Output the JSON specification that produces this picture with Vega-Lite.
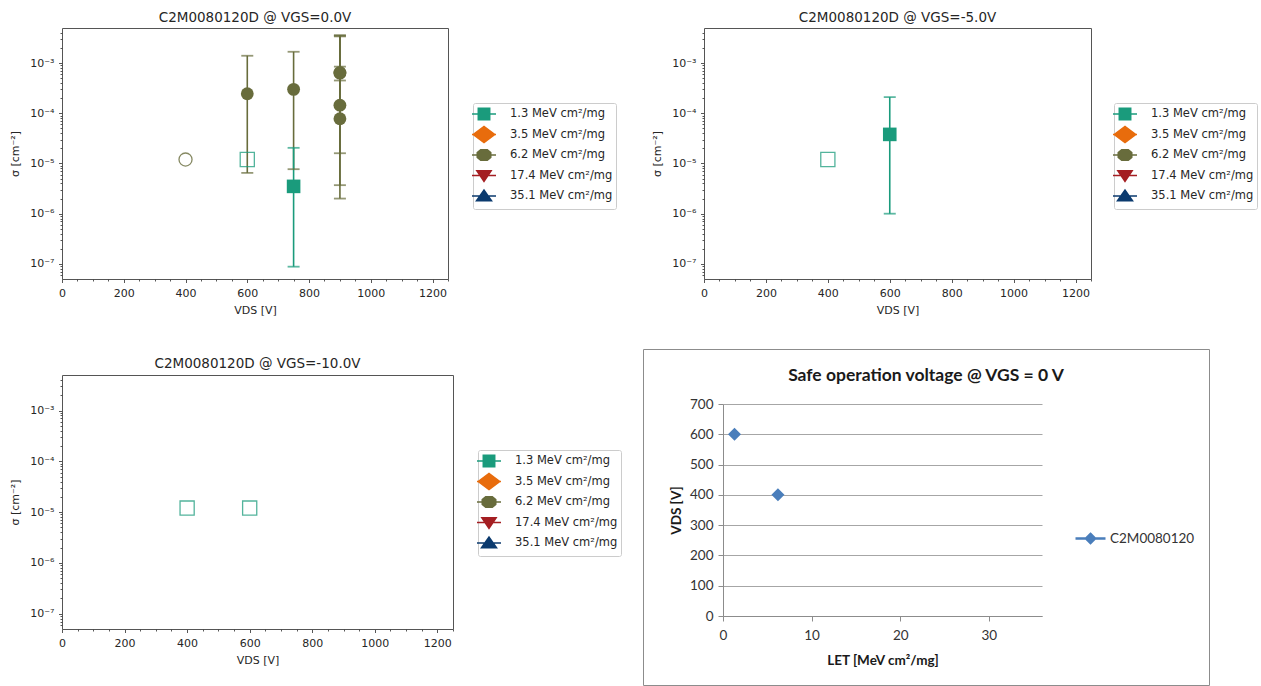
{
"$schema": "https://vega.github.io/schema/vega-lite/v6.json",
"background": "white",
"padding": {"left": 9, "top": 10, "right": 0, "bottom": 0},
"config": {
 "font": "DejaVu Sans",
 "view": {"stroke": "#555555", "strokeWidth": 1},
 "axis": {"domain": false, "grid": false, "labelFont": "DejaVu Sans", "labelFontSize": 11, "labelColor": "#262626", "tickColor": "#444444", "tickWidth": 0.9, "titleFont": "DejaVu Sans", "titleFontSize": 11, "titleFontWeight": "normal", "titleColor": "#262626"},
 "title": {"font": "DejaVu Sans", "fontSize": 13.5, "fontWeight": "normal", "color": "#262626", "anchor": "middle", "frame": "group"},
 "legend": {"labelFont": "DejaVu Sans", "labelFontSize": 11.5, "labelColor": "#262626"}
},
"datasets": {
 "pts": [
  {"panel": "A", "V": 400, "LET": "6.2 MeV cm²/mg", "sigma": 1.2e-5, "lo": null, "hi": null, "kind": "limit"},
  {"panel": "A", "V": 600, "LET": "1.3 MeV cm²/mg", "sigma": 1.2e-5, "lo": null, "hi": null, "kind": "limit"},
  {"panel": "A", "V": 600, "LET": "6.2 MeV cm²/mg", "sigma": 2.45e-4, "lo": 6.5e-6, "hi": 1.4e-3, "kind": "event"},
  {"panel": "A", "V": 750, "LET": "6.2 MeV cm²/mg", "sigma": 3.0e-4, "lo": 7.7e-6, "hi": 1.68e-3, "kind": "event"},
  {"panel": "A", "V": 750, "LET": "1.3 MeV cm²/mg", "sigma": 3.5e-6, "lo": 8.8e-8, "hi": 2.05e-5, "kind": "event"},
  {"panel": "A", "V": 900, "LET": "6.2 MeV cm²/mg", "sigma": 6.3e-4, "lo": 4.5e-4, "hi": 8.5e-4, "kind": "event"},
  {"panel": "A", "V": 900, "LET": "6.2 MeV cm²/mg", "sigma": 6.5e-4, "lo": 2.0e-6, "hi": 3.6e-3, "kind": "event"},
  {"panel": "A", "V": 900, "LET": "6.2 MeV cm²/mg", "sigma": 1.45e-4, "lo": 1.6e-5, "hi": 3.5e-3, "kind": "event"},
  {"panel": "A", "V": 900, "LET": "6.2 MeV cm²/mg", "sigma": 7.8e-5, "lo": 3.7e-6, "hi": 3.4e-3, "kind": "event"},
  {"panel": "B", "V": 400, "LET": "1.3 MeV cm²/mg", "sigma": 1.2e-5, "lo": null, "hi": null, "kind": "limit"},
  {"panel": "B", "V": 600, "LET": "1.3 MeV cm²/mg", "sigma": 3.8e-5, "lo": 1.0e-6, "hi": 2.1e-4, "kind": "event"},
  {"panel": "C", "V": 400, "LET": "1.3 MeV cm²/mg", "sigma": 1.2e-5, "lo": null, "hi": null, "kind": "limit"},
  {"panel": "C", "V": 600, "LET": "1.3 MeV cm²/mg", "sigma": 1.2e-5, "lo": null, "hi": null, "kind": "limit"}
 ],
 "leg": [
  {"LET": "1.3 MeV cm²/mg"}, {"LET": "3.5 MeV cm²/mg"}, {"LET": "6.2 MeV cm²/mg"}, {"LET": "17.4 MeV cm²/mg"}, {"LET": "35.1 MeV cm²/mg"}
 ],
 "safe": [
  {"LET": 1.3, "VDS": 600, "series": "C2M0080120"},
  {"LET": 6.2, "VDS": 400, "series": "C2M0080120"}
 ]
},
"spacing": 32,
"resolve": {"scale": {"color": "independent", "fill": "independent", "stroke": "independent", "shape": "independent"}, "legend": {"color": "independent", "fill": "independent", "stroke": "independent", "shape": "independent"}},
"vconcat": [
 {"spacing": 34,
  "resolve": {"scale": {"color": "independent", "fill": "independent", "stroke": "independent", "shape": "independent"}, "legend": {"color": "independent", "fill": "independent", "stroke": "independent", "shape": "independent"}},
  "hconcat": [
  {
   "width": 386, "height": 251,
   "title": {"text": "C2M0080120D @ VGS=0.0V", "offset": 4},
   "data": {"name": "pts"},
   "layer": [
    {"data": {"name": "leg"}, "mark": {"type": "point", "opacity": 0},
     "encoding": {
      "fill": {"field": "LET", "type": "nominal", "scale": {"domain": ["1.3 MeV cm²/mg","3.5 MeV cm²/mg","6.2 MeV cm²/mg","17.4 MeV cm²/mg","35.1 MeV cm²/mg"], "range": ["#1a9b7c","#e86c0c","#686c3c","#a41e22","#0b3a6e"]},
        "legend": {"orient": "none", "legendX": 411, "legendY": 75, "title": null, "padding": 3, "fillColor": "#ffffff", "strokeColor": "#cccccc", "cornerRadius": 2, "symbolSize": 256, "symbolStrokeWidth": 0, "symbolOpacity": 1, "symbolOffset": 0, "labelOffset": 18, "rowPadding": 0.5, "labelLimit": 300}},
      "shape": {"field": "LET", "type": "nominal", "scale": {"domain": ["1.3 MeV cm²/mg","3.5 MeV cm²/mg","6.2 MeV cm²/mg","17.4 MeV cm²/mg","35.1 MeV cm²/mg"], "range": ["M-1.5,-1.25M1.5,1.25M-1.5,-0.09H1.5V0.09H-1.5ZM-0.81,-0.81H0.81V0.81H-0.81Z","M-1.5,-1.25M1.5,1.25M-1.5,-0.09H1.5V0.09H-1.5ZM-1.5,0L0,-1.12L1.5,0L0,1.12Z","M-1.5,-1.25M1.5,1.25M-1.5,-0.09H1.5V0.09H-1.5ZM-0.45,-0.75H0.45L0.94,-0.34V0.34L0.45,0.75H-0.45L-0.94,0.34V-0.34Z","M-1.5,-1.25M1.5,1.25M-1.5,-0.09H1.5V0.09H-1.5ZM-1.07,-0.68H1.07L0,0.9Z","M-1.5,-1.25M1.5,1.25M-1.5,-0.09H1.5V0.09H-1.5ZM0,-0.9L1.12,0.68H-1.12Z"]},
        "legend": {"orient": "none", "legendX": 411, "legendY": 75, "title": null, "padding": 3, "fillColor": "#ffffff", "strokeColor": "#cccccc", "cornerRadius": 2, "symbolSize": 256, "symbolStrokeWidth": 0, "symbolOpacity": 1, "symbolOffset": 0, "labelOffset": 18, "rowPadding": 0.5, "labelLimit": 300}}
     }},
    {"transform": [{"filter": "datum.panel == 'A' && datum.kind == 'event'"}], "mark": {"type": "rule", "strokeWidth": 1.6},
     "encoding": {
      "x": {"field": "V", "type": "quantitative", "scale": {"domain": [0, 1250], "nice": false, "zero": false}, "axis": null},
      "y": {"field": "lo", "type": "quantitative", "scale": {"type": "log", "domain": [5e-8, 5e-3], "nice": false}, "axis": null},
      "y2": {"field": "hi"},
      "color": {"field": "LET", "type": "nominal", "scale": {"domain": ["1.3 MeV cm²/mg","3.5 MeV cm²/mg","6.2 MeV cm²/mg","17.4 MeV cm²/mg","35.1 MeV cm²/mg"], "range": ["#1a9b7c","#e86c0c","#686c3c","#a41e22","#0b3a6e"]}, "legend": null}
     }},
    {"transform": [{"filter": "datum.panel == 'A' && datum.kind == 'event'"}], "mark": {"type": "tick", "orient": "horizontal", "size": 12, "thickness": 1.8},
     "encoding": {
      "x": {"field": "V", "type": "quantitative", "scale": {"domain": [0, 1250], "nice": false, "zero": false}, "axis": null},
      "y": {"field": "lo", "type": "quantitative", "scale": {"type": "log", "domain": [5e-8, 5e-3], "nice": false}, "axis": null},
      "color": {"field": "LET", "type": "nominal", "scale": {"domain": ["1.3 MeV cm²/mg","3.5 MeV cm²/mg","6.2 MeV cm²/mg","17.4 MeV cm²/mg","35.1 MeV cm²/mg"], "range": ["#1a9b7c","#e86c0c","#686c3c","#a41e22","#0b3a6e"]}, "legend": null}
     }},
    {"transform": [{"filter": "datum.panel == 'A' && datum.kind == 'event'"}], "mark": {"type": "tick", "orient": "horizontal", "size": 12, "thickness": 1.8},
     "encoding": {
      "x": {"field": "V", "type": "quantitative", "scale": {"domain": [0, 1250], "nice": false, "zero": false}, "axis": null},
      "y": {"field": "hi", "type": "quantitative", "scale": {"type": "log", "domain": [5e-8, 5e-3], "nice": false}, "axis": null},
      "color": {"field": "LET", "type": "nominal", "scale": {"domain": ["1.3 MeV cm²/mg","3.5 MeV cm²/mg","6.2 MeV cm²/mg","17.4 MeV cm²/mg","35.1 MeV cm²/mg"], "range": ["#1a9b7c","#e86c0c","#686c3c","#a41e22","#0b3a6e"]}, "legend": null}
     }},
    {"transform": [{"filter": "datum.panel == 'A' && datum.kind == 'limit' && datum.LET == '1.3 MeV cm²/mg'"}], "mark": {"type": "point", "shape": "square", "filled": false, "size": 200, "strokeWidth": 1.3, "opacity": 0.75, "color": "#1a9b7c"},
     "encoding": {
      "x": {"field": "V", "type": "quantitative", "scale": {"domain": [0, 1250], "nice": false, "zero": false}, "axis": {"values": [50,100,150,250,300,350,450,500,550,650,700,750,850,900,950,1050,1100,1150,1250], "labels": false, "tickSize": 2, "title": null, "orient": "bottom"}},
      "y": {"field": "sigma", "type": "quantitative", "scale": {"type": "log", "domain": [5e-8, 5e-3], "nice": false}, "axis": {"values": [6e-8,7e-8,8e-8,9e-8,2e-7,3e-7,4e-7,5e-7,6e-7,7e-7,8e-7,9e-7,2e-6,3e-6,4e-6,5e-6,6e-6,7e-6,8e-6,9e-6,2e-5,3e-5,4e-5,5e-5,6e-5,7e-5,8e-5,9e-5,2e-4,3e-4,4e-4,5e-4,6e-4,7e-4,8e-4,9e-4,2e-3,3e-3,4e-3], "labels": false, "tickSize": 2, "title": null, "orient": "left"}}
     }},
    {"transform": [{"filter": "datum.panel == 'A' && datum.kind == 'limit' && datum.LET == '6.2 MeV cm²/mg'"}], "mark": {"type": "point", "shape": "circle", "filled": false, "size": 170, "strokeWidth": 1.3, "opacity": 0.8, "color": "#686c3c"},
     "encoding": {
      "x": {"field": "V", "type": "quantitative", "scale": {"domain": [0, 1250], "nice": false, "zero": false}, "axis": null},
      "y": {"field": "sigma", "type": "quantitative", "scale": {"type": "log", "domain": [5e-8, 5e-3], "nice": false}, "axis": null}
     }},
    {"transform": [{"filter": "datum.panel == 'A' && datum.kind == 'event' && datum.LET == '1.3 MeV cm²/mg'"}], "mark": {"type": "point", "shape": "square", "filled": true, "size": 185, "opacity": 1, "color": "#1a9b7c"},
     "encoding": {
      "x": {"field": "V", "type": "quantitative", "scale": {"domain": [0, 1250], "nice": false, "zero": false}, "axis": null},
      "y": {"field": "sigma", "type": "quantitative", "scale": {"type": "log", "domain": [5e-8, 5e-3], "nice": false}, "axis": null}
     }},
    {"transform": [{"filter": "datum.panel == 'A' && datum.kind == 'event' && datum.LET == '6.2 MeV cm²/mg'"}], "mark": {"type": "point", "shape": "circle", "filled": true, "size": 165, "opacity": 1, "color": "#686c3c"},
     "encoding": {
      "x": {"field": "V", "type": "quantitative", "scale": {"domain": [0, 1250], "nice": false, "zero": false}, "axis": {"values": [0,200,400,600,800,1000,1200], "format": "d", "title": "VDS [V]", "tickSize": 3.5, "labelPadding": 4.5, "titlePadding": 6, "labelFlush": false, "labelOverlap": false, "orient": "bottom"}},
      "y": {"field": "sigma", "type": "quantitative", "scale": {"type": "log", "domain": [5e-8, 5e-3], "nice": false}, "axis": {"values": [1e-7,1e-6,1e-5,1e-4,1e-3], "labelExpr": "'10⁻' + ['⁰','¹','²','³','⁴','⁵','⁶','⁷','⁸','⁹'][round(-log(datum.value)/LN10)]", "title": "σ [cm⁻²]", "tickSize": 3.5, "labelPadding": 4.5, "minExtent": 34, "maxExtent": 34, "titlePadding": 7.5, "labelFlush": false, "labelOverlap": false, "orient": "left"}}
     }}
   ],
   "resolve": {"axis": {"x": "independent", "y": "independent"}}
  },
  {
   "width": 387, "height": 251,
   "title": {"text": "C2M0080120D @ VGS=-5.0V", "offset": 4},
   "data": {"name": "pts"},
   "layer": [
    {"data": {"name": "leg"}, "mark": {"type": "point", "opacity": 0},
     "encoding": {
      "fill": {"field": "LET", "type": "nominal", "scale": {"domain": ["1.3 MeV cm²/mg","3.5 MeV cm²/mg","6.2 MeV cm²/mg","17.4 MeV cm²/mg","35.1 MeV cm²/mg"], "range": ["#1a9b7c","#e86c0c","#686c3c","#a41e22","#0b3a6e"]},
        "legend": {"orient": "none", "legendX": 410, "legendY": 75, "title": null, "padding": 3, "fillColor": "#ffffff", "strokeColor": "#cccccc", "cornerRadius": 2, "symbolSize": 256, "symbolStrokeWidth": 0, "symbolOpacity": 1, "symbolOffset": 0, "labelOffset": 18, "rowPadding": 0.5, "labelLimit": 300}},
      "shape": {"field": "LET", "type": "nominal", "scale": {"domain": ["1.3 MeV cm²/mg","3.5 MeV cm²/mg","6.2 MeV cm²/mg","17.4 MeV cm²/mg","35.1 MeV cm²/mg"], "range": ["M-1.5,-1.25M1.5,1.25M-1.5,-0.09H1.5V0.09H-1.5ZM-0.81,-0.81H0.81V0.81H-0.81Z","M-1.5,-1.25M1.5,1.25M-1.5,-0.09H1.5V0.09H-1.5ZM-1.5,0L0,-1.12L1.5,0L0,1.12Z","M-1.5,-1.25M1.5,1.25M-1.5,-0.09H1.5V0.09H-1.5ZM-0.45,-0.75H0.45L0.94,-0.34V0.34L0.45,0.75H-0.45L-0.94,0.34V-0.34Z","M-1.5,-1.25M1.5,1.25M-1.5,-0.09H1.5V0.09H-1.5ZM-1.07,-0.68H1.07L0,0.9Z","M-1.5,-1.25M1.5,1.25M-1.5,-0.09H1.5V0.09H-1.5ZM0,-0.9L1.12,0.68H-1.12Z"]},
        "legend": {"orient": "none", "legendX": 410, "legendY": 75, "title": null, "padding": 3, "fillColor": "#ffffff", "strokeColor": "#cccccc", "cornerRadius": 2, "symbolSize": 256, "symbolStrokeWidth": 0, "symbolOpacity": 1, "symbolOffset": 0, "labelOffset": 18, "rowPadding": 0.5, "labelLimit": 300}}
     }},
    {"transform": [{"filter": "datum.panel == 'B' && datum.kind == 'event'"}], "mark": {"type": "rule", "strokeWidth": 1.6, "color": "#1a9b7c"},
     "encoding": {
      "x": {"field": "V", "type": "quantitative", "scale": {"domain": [0, 1250], "nice": false, "zero": false}, "axis": null},
      "y": {"field": "lo", "type": "quantitative", "scale": {"type": "log", "domain": [5e-8, 5e-3], "nice": false}, "axis": null},
      "y2": {"field": "hi"}
     }},
    {"transform": [{"filter": "datum.panel == 'B' && datum.kind == 'event'"}], "mark": {"type": "tick", "orient": "horizontal", "size": 12, "thickness": 1.8, "color": "#1a9b7c"},
     "encoding": {
      "x": {"field": "V", "type": "quantitative", "scale": {"domain": [0, 1250], "nice": false, "zero": false}, "axis": null},
      "y": {"field": "lo", "type": "quantitative", "scale": {"type": "log", "domain": [5e-8, 5e-3], "nice": false}, "axis": null}
     }},
    {"transform": [{"filter": "datum.panel == 'B' && datum.kind == 'event'"}], "mark": {"type": "tick", "orient": "horizontal", "size": 12, "thickness": 1.8, "color": "#1a9b7c"},
     "encoding": {
      "x": {"field": "V", "type": "quantitative", "scale": {"domain": [0, 1250], "nice": false, "zero": false}, "axis": null},
      "y": {"field": "hi", "type": "quantitative", "scale": {"type": "log", "domain": [5e-8, 5e-3], "nice": false}, "axis": null}
     }},
    {"transform": [{"filter": "datum.panel == 'B' && datum.kind == 'limit'"}], "mark": {"type": "point", "shape": "square", "filled": false, "size": 200, "strokeWidth": 1.3, "opacity": 0.75, "color": "#1a9b7c"},
     "encoding": {
      "x": {"field": "V", "type": "quantitative", "scale": {"domain": [0, 1250], "nice": false, "zero": false}, "axis": {"values": [50,100,150,250,300,350,450,500,550,650,700,750,850,900,950,1050,1100,1150,1250], "labels": false, "tickSize": 2, "title": null, "orient": "bottom"}},
      "y": {"field": "sigma", "type": "quantitative", "scale": {"type": "log", "domain": [5e-8, 5e-3], "nice": false}, "axis": {"values": [6e-8,7e-8,8e-8,9e-8,2e-7,3e-7,4e-7,5e-7,6e-7,7e-7,8e-7,9e-7,2e-6,3e-6,4e-6,5e-6,6e-6,7e-6,8e-6,9e-6,2e-5,3e-5,4e-5,5e-5,6e-5,7e-5,8e-5,9e-5,2e-4,3e-4,4e-4,5e-4,6e-4,7e-4,8e-4,9e-4,2e-3,3e-3,4e-3], "labels": false, "tickSize": 2, "title": null, "orient": "left"}}
     }},
    {"transform": [{"filter": "datum.panel == 'B' && datum.kind == 'event'"}], "mark": {"type": "point", "shape": "square", "filled": true, "size": 185, "opacity": 1, "color": "#1a9b7c"},
     "encoding": {
      "x": {"field": "V", "type": "quantitative", "scale": {"domain": [0, 1250], "nice": false, "zero": false}, "axis": {"values": [0,200,400,600,800,1000,1200], "format": "d", "title": "VDS [V]", "tickSize": 3.5, "labelPadding": 4.5, "titlePadding": 6, "labelFlush": false, "labelOverlap": false, "orient": "bottom"}},
      "y": {"field": "sigma", "type": "quantitative", "scale": {"type": "log", "domain": [5e-8, 5e-3], "nice": false}, "axis": {"values": [1e-7,1e-6,1e-5,1e-4,1e-3], "labelExpr": "'10⁻' + ['⁰','¹','²','³','⁴','⁵','⁶','⁷','⁸','⁹'][round(-log(datum.value)/LN10)]", "title": "σ [cm⁻²]", "tickSize": 3.5, "labelPadding": 4.5, "minExtent": 34, "maxExtent": 34, "titlePadding": 7.5, "labelFlush": false, "labelOverlap": false, "orient": "left"}}
     }}
   ],
   "resolve": {"axis": {"x": "independent", "y": "independent"}}
  }
 ]},
 {"spacing": 20,
  "resolve": {"scale": {"color": "independent", "fill": "independent", "stroke": "independent", "shape": "independent"}, "legend": {"color": "independent", "fill": "independent", "stroke": "independent", "shape": "independent"}},
  "hconcat": [
  {
   "width": 391, "height": 280,
   "view": {"stroke": null},
   "title": {"text": "C2M0080120D @ VGS=-10.0V", "offset": -21},
   "data": {"name": "pts"},
   "layer": [
    {"data": {"name": "leg"}, "mark": {"type": "point", "opacity": 0},
     "encoding": {
      "fill": {"field": "LET", "type": "nominal", "scale": {"domain": ["1.3 MeV cm²/mg","3.5 MeV cm²/mg","6.2 MeV cm²/mg","17.4 MeV cm²/mg","35.1 MeV cm²/mg"], "range": ["#1a9b7c","#e86c0c","#686c3c","#a41e22","#0b3a6e"]},
        "legend": {"orient": "none", "legendX": 416, "legendY": 101, "title": null, "padding": 3, "fillColor": "#ffffff", "strokeColor": "#cccccc", "cornerRadius": 2, "symbolSize": 256, "symbolStrokeWidth": 0, "symbolOpacity": 1, "symbolOffset": 0, "labelOffset": 18, "rowPadding": 0.5, "labelLimit": 300}},
      "shape": {"field": "LET", "type": "nominal", "scale": {"domain": ["1.3 MeV cm²/mg","3.5 MeV cm²/mg","6.2 MeV cm²/mg","17.4 MeV cm²/mg","35.1 MeV cm²/mg"], "range": ["M-1.5,-1.25M1.5,1.25M-1.5,-0.09H1.5V0.09H-1.5ZM-0.81,-0.81H0.81V0.81H-0.81Z","M-1.5,-1.25M1.5,1.25M-1.5,-0.09H1.5V0.09H-1.5ZM-1.5,0L0,-1.12L1.5,0L0,1.12Z","M-1.5,-1.25M1.5,1.25M-1.5,-0.09H1.5V0.09H-1.5ZM-0.45,-0.75H0.45L0.94,-0.34V0.34L0.45,0.75H-0.45L-0.94,0.34V-0.34Z","M-1.5,-1.25M1.5,1.25M-1.5,-0.09H1.5V0.09H-1.5ZM-1.07,-0.68H1.07L0,0.9Z","M-1.5,-1.25M1.5,1.25M-1.5,-0.09H1.5V0.09H-1.5ZM0,-0.9L1.12,0.68H-1.12Z"]},
        "legend": {"orient": "none", "legendX": 416, "legendY": 101, "title": null, "padding": 3, "fillColor": "#ffffff", "strokeColor": "#cccccc", "cornerRadius": 2, "symbolSize": 256, "symbolStrokeWidth": 0, "symbolOpacity": 1, "symbolOffset": 0, "labelOffset": 18, "rowPadding": 0.5, "labelLimit": 300}}
     }},
    {"transform": [{"filter": "datum.panel == 'C'"}], "mark": {"type": "point", "opacity": 0},
     "encoding": {
      "x": {"field": "V", "type": "quantitative", "scale": {"domain": [0, 1250], "nice": false, "zero": false}, "axis": {"orient": "top", "offset": -26, "domain": true, "domainColor": "#555555", "domainWidth": 1, "ticks": false, "labels": false, "title": null}},
      "y": {"field": "sigma", "type": "quantitative", "scale": {"type": "log", "domain": [5e-8, 5e-3], "range": [280, 26], "nice": false}, "axis": {"orient": "right", "domain": true, "domainColor": "#555555", "domainWidth": 1, "ticks": false, "labels": false, "title": null}}
     }},
    {"transform": [{"filter": "datum.panel == 'C'"}], "mark": {"type": "point", "opacity": 0},
     "encoding": {
      "x": {"field": "V", "type": "quantitative", "scale": {"domain": [0, 1250], "nice": false, "zero": false}, "axis": {"values": [0,200,400,600,800,1000,1200], "format": "d", "title": "VDS [V]", "tickSize": 3.5, "labelPadding": 4.5, "titlePadding": 6, "labelFlush": false, "labelOverlap": false, "orient": "bottom", "domain": true, "domainColor": "#555555", "domainWidth": 1}},
      "y": {"field": "sigma", "type": "quantitative", "scale": {"type": "log", "domain": [5e-8, 5e-3], "range": [280, 26], "nice": false}, "axis": {"values": [1e-7,1e-6,1e-5,1e-4,1e-3], "labelExpr": "'10⁻' + ['⁰','¹','²','³','⁴','⁵','⁶','⁷','⁸','⁹'][round(-log(datum.value)/LN10)]", "title": "σ [cm⁻²]", "tickSize": 3.5, "labelPadding": 4.5, "minExtent": 34, "maxExtent": 34, "titlePadding": 7.5, "labelFlush": false, "labelOverlap": false, "orient": "left", "domain": true, "domainColor": "#555555", "domainWidth": 1}}
     }},
    {"transform": [{"filter": "datum.panel == 'C' && datum.kind == 'limit'"}], "mark": {"type": "point", "shape": "square", "filled": false, "size": 200, "strokeWidth": 1.3, "opacity": 0.75, "color": "#1a9b7c"},
     "encoding": {
      "x": {"field": "V", "type": "quantitative", "scale": {"domain": [0, 1250], "nice": false, "zero": false}, "axis": {"values": [50,100,150,250,300,350,450,500,550,650,700,750,850,900,950,1050,1100,1150,1250], "labels": false, "tickSize": 2, "title": null, "orient": "bottom"}},
      "y": {"field": "sigma", "type": "quantitative", "scale": {"type": "log", "domain": [5e-8, 5e-3], "range": [280, 26], "nice": false}, "axis": {"values": [6e-8,7e-8,8e-8,9e-8,2e-7,3e-7,4e-7,5e-7,6e-7,7e-7,8e-7,9e-7,2e-6,3e-6,4e-6,5e-6,6e-6,7e-6,8e-6,9e-6,2e-5,3e-5,4e-5,5e-5,6e-5,7e-5,8e-5,9e-5,2e-4,3e-4,4e-4,5e-4,6e-4,7e-4,8e-4,9e-4,2e-3,3e-3,4e-3], "labels": false, "tickSize": 2, "title": null, "orient": "left"}}
     }}
   ],
   "resolve": {"axis": {"x": "independent", "y": "independent"}}
  },
  {
   "width": 566, "height": 336,
   "view": {"stroke": "#8c8c8c", "strokeWidth": 1},
   "title": {"text": "Safe operation voltage @ VGS = 0 V", "font": "Lato", "fontSize": 17.5, "fontWeight": "bold", "color": "#1a1a1a", "offset": -35.5},
   "data": {"name": "safe"},
   "layer": [
    {"mark": {"type": "point", "opacity": 0},
     "encoding": {
      "fill": {"field": "series", "type": "nominal", "scale": {"domain": ["C2M0080120"], "range": ["#4a7ebb"]},
        "legend": {"orient": "none", "legendX": 431, "legendY": 173, "title": null, "padding": 0, "symbolSize": 900, "symbolStrokeWidth": 2.5, "symbolOpacity": 1, "labelFont": "Lato", "labelFontSize": 13.5, "labelColor": "#333333", "labelOffset": 3}},
      "stroke": {"field": "series", "type": "nominal", "scale": {"domain": ["C2M0080120"], "range": ["#4a7ebb"]},
        "legend": {"orient": "none", "legendX": 431, "legendY": 173, "title": null, "padding": 0, "symbolSize": 900, "symbolStrokeWidth": 2.5, "symbolOpacity": 1, "labelFont": "Lato", "labelFontSize": 13.5, "labelColor": "#333333", "labelOffset": 3}},
      "shape": {"field": "series", "type": "nominal", "scale": {"domain": ["C2M0080120"], "range": ["M-1,0H1M0,-0.3L0.3,0L0,0.3L-0.3,0Z"]},
        "legend": {"orient": "none", "legendX": 431, "legendY": 173, "title": null, "padding": 0, "symbolSize": 900, "symbolStrokeWidth": 2.5, "symbolOpacity": 1, "labelFont": "Lato", "labelFontSize": 13.5, "labelColor": "#333333", "labelOffset": 3}}
     }},
    {"mark": {"type": "point", "shape": "diamond", "filled": true, "size": 169, "opacity": 1, "color": "#4a7ebb"},
     "encoding": {
      "x": {"field": "LET", "type": "quantitative", "scale": {"domain": [0, 36], "range": [80, 399], "nice": false, "zero": false},
        "axis": {"values": [0, 10, 20, 30], "title": "LET [MeV cm²/mg]", "offset": -69, "domain": true, "domainColor": "#8c8c8c", "tickColor": "#8c8c8c", "tickSize": 5, "tickWidth": 1, "labelFont": "Lato", "labelFontSize": 13.5, "labelColor": "#333333", "labelPadding": 7, "labelFlush": false, "titleFont": "Lato", "titleFontSize": 13.5, "titleFontWeight": "bold", "titleColor": "#1a1a1a", "titlePadding": 12}},
      "y": {"field": "VDS", "type": "quantitative", "scale": {"domain": [0, 700], "range": [267, 55], "nice": false, "zero": false},
        "axis": {"values": [0, 100, 200, 300, 400, 500, 600, 700], "title": "VDS [V]", "offset": -80, "grid": true, "gridColor": "#a6a6a6", "gridWidth": 1, "domain": true, "domainColor": "#8c8c8c", "tickColor": "#8c8c8c", "tickSize": 5, "tickWidth": 1, "labelFont": "Lato", "labelFontSize": 13.5, "labelColor": "#333333", "labelPadding": 5, "labelFlush": false, "titleFont": "Lato", "titleFontSize": 13.5, "titleFontWeight": "bold", "titleColor": "#1a1a1a", "titlePadding": 6}}
     }}
   ]
  }
 ]}
]
}
